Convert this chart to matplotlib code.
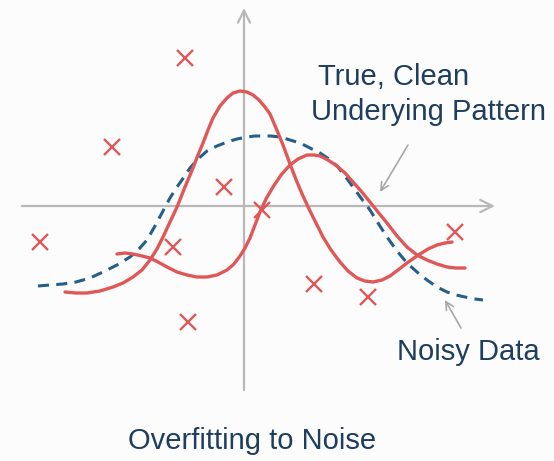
import numpy as np
import matplotlib.pyplot as plt

plt.rcParams['font.family'] = ['Liberation Sans', 'DejaVu Sans']

# noisy samples (image-space coordinates, y grows downward)
noise_x = [185, 112, 224, 262, 40, 173, 188, 314, 368, 455]
noise_y = [58, 147, 187, 210, 242, 247, 322, 284, 297, 232]

# true, clean pattern (dashed)
true_x = [38, 50, 63, 76, 90, 103, 117, 130, 139, 147, 155, 163, 170, 177, 184,
          190, 198, 207, 217, 227, 237, 247, 255, 262, 271, 280, 290, 300, 310,
          320, 329, 337, 345, 353, 361, 370, 378, 387, 397, 407, 417, 427, 437,
          447, 456, 465, 475, 483]
true_y = [286, 285, 284, 282, 278, 272, 265, 257, 249, 240, 226, 211, 198, 187,
          177, 168, 159, 151, 146, 142, 139, 137, 136, 136, 136, 137, 140, 143,
          148, 153, 159, 166, 176, 187, 198, 210, 223, 237, 251, 263, 272, 280,
          287, 292, 295, 297, 299, 300]

# overfit curve with the tall peak
fitA_x = [65, 76, 87, 100, 113, 123, 133, 142, 150, 157, 163, 170, 177, 185,
          193, 198, 203, 208, 213, 220, 227, 233, 240, 247, 253, 259, 265, 270,
          276, 283, 290, 297, 303, 310, 317, 323, 331, 340, 348, 357, 365, 373,
          382, 390, 398, 407, 414, 420, 428, 437, 445, 452]
fitA_y = [292, 293, 293, 291, 287, 283, 277, 270, 260, 249, 237, 222, 207, 187,
          168, 155, 143, 130, 118, 106, 98, 93, 91, 92, 95, 100, 107, 114,
          128, 145, 164, 182, 196, 211, 225, 237, 250, 262, 271, 278, 281, 282,
          280, 276, 270, 263, 258, 254, 249, 245, 243, 242]

# overfit curve with the wiggle
fitB_x = [117, 125, 133, 142, 150, 158, 167, 177, 187, 197, 207, 217, 227, 234,
          240, 245, 250, 255, 260, 266, 273, 281, 290, 298, 307, 314, 320, 328,
          337, 345, 353, 361, 370, 378, 387, 397, 407, 417, 427, 437, 447, 456,
          465]
fitB_y = [254, 253, 254, 256, 258, 262, 267, 272, 275, 277, 277, 275, 270, 264,
          256, 248, 238, 225, 212, 199, 187, 175, 165, 159, 155, 155, 156, 160,
          166, 173, 182, 191, 202, 212, 223, 236, 247, 255, 260, 264, 267, 268,
          268]

red = '#e05757'
blue = '#245f8c'
navy = '#1f3d5c'
axis_gray = '#b8b8b8'

fig = plt.figure(figsize=(5.54, 4.61), dpi=100)
fig.patch.set_facecolor('#fcfcfc')
ax = fig.add_axes([0, 0, 1, 1])
ax.set_xlim(0, 554)
ax.set_ylim(461, 0)
ax.axis('off')

# axes with open arrow heads
ax.annotate('', xy=(495, 206), xytext=(22, 206),
            arrowprops=dict(arrowstyle='->', color=axis_gray, lw=1.6,
                            mutation_scale=22, shrinkA=0, shrinkB=0))
ax.annotate('', xy=(244, 8), xytext=(244, 390),
            arrowprops=dict(arrowstyle='->', color=axis_gray, lw=1.6,
                            mutation_scale=22, shrinkA=0, shrinkB=0))

ax.plot(true_x, true_y, color=blue, lw=2.2, dashes=(3.6, 2.4),
        dash_capstyle='butt', zorder=3)
ax.plot(fitA_x, fitA_y, color=red, lw=2.4, solid_capstyle='round',
        solid_joinstyle='round', zorder=4)
ax.plot(fitB_x, fitB_y, color=red, lw=2.4, solid_capstyle='round',
        solid_joinstyle='round', zorder=4)
ax.plot(noise_x, noise_y, ls='none', marker='x', ms=11, mew=1.7,
        color=red, zorder=5)

ax.text(318, 77, 'True, Clean', fontsize=21, color=navy, va='center', ha='left')
ax.text(311, 112, 'Underying Pattern', fontsize=21, color=navy,
        va='center', ha='left')
ax.annotate('', xy=(380, 192), xytext=(408, 145),
            arrowprops=dict(arrowstyle='->', color='#a8a8a8', lw=1.2,
                            mutation_scale=14, shrinkA=0, shrinkB=0))

ax.text(397, 352, 'Noisy Data', fontsize=21, color=navy, va='center', ha='left')
ax.annotate('', xy=(445, 300), xytext=(461, 328),
            arrowprops=dict(arrowstyle='->', color='#a8a8a8', lw=1.2,
                            mutation_scale=14, shrinkA=0, shrinkB=0))

ax.text(252, 441, 'Overfitting to Noise', fontsize=21, color=navy,
        va='center', ha='center')

fig.savefig('out.png', dpi=100, facecolor=fig.get_facecolor())
